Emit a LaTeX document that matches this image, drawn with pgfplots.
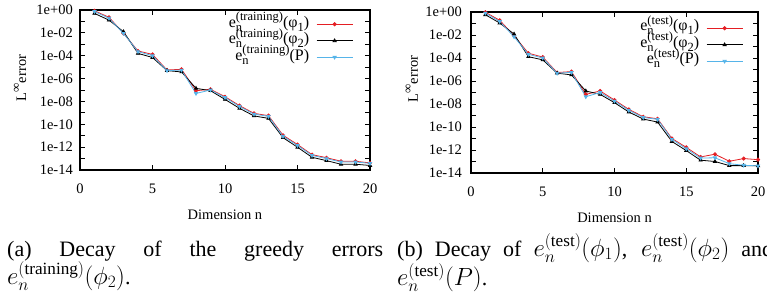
\documentclass[border=0pt]{standalone}
\usepackage{fontspec}
\setmainfont{Liberation Serif}
\usepackage{pgfplots}
\usepackage{pgfplotstable}
\pgfplotsset{compat=1.18}
\definecolor{gred}{RGB}{228,30,35}
\definecolor{gblue}{RGB}{86,180,233}

\pgfplotstableread{
n a b c
1 0.85 0.5 0.75
2 0.23 0.13 0.19
3 0.009 0.0126 0.009
4 2.6e-4 1.6e-4 2.3e-4
5 1.3e-4 7e-5 1.0e-4
6 5.6e-6 5e-6 5e-6
7 6.5e-6 3.8e-6 5.5e-6
8 8.7e-8 1.4e-7 5e-8
9 1.15e-7 8.7e-8 1.0e-7
10 2.6e-8 1.5e-8 2.2e-8
11 4.3e-9 2.5e-9 3.6e-9
12 9e-10 5.4e-10 7.8e-10
13 5.7e-10 3.3e-10 4.9e-10
14 1.1e-11 6.8e-12 9e-12
15 1.7e-12 9.8e-13 1.4e-12
16 2.2e-13 1.3e-13 1.9e-13
17 1.2e-13 6.6e-14 1.0e-13
18 5.8e-14 3.2e-14 5.0e-14
19 5.8e-14 3.2e-14 5.0e-14
20 4.2e-14 2.5e-14 3.8e-14
}\train

\pgfplotstableread{
n a b c
1 0.95 0.58 0.8
2 0.19 0.11 0.15
3 0.0085 0.012 0.007
4 2.6e-4 1.3e-4 2.1e-4
5 1.2e-4 6.9e-5 1.0e-4
6 5.4e-6 4.8e-6 4.8e-6
7 6.6e-6 3.4e-6 5.6e-6
8 6.9e-8 1.35e-7 4.3e-8
9 1.35e-7 6.9e-8 1.0e-7
10 2.2e-8 1.3e-8 1.8e-8
11 3.4e-9 2e-9 2.8e-9
12 7.8e-10 4.9e-10 6.8e-10
13 5.2e-10 2.7e-10 4.6e-10
14 1e-11 5.5e-12 8.5e-12
15 1.7e-12 8.9e-13 1.3e-12
16 2.5e-13 1.3e-13 2e-13
17 4.3e-13 1e-13 2.1e-13
18 1.05e-13 4.4e-14 6.5e-14
19 1.8e-13 4.4e-14 4.7e-14
20 1.45e-13 4.2e-14 4.2e-14
}\test

\tikzset{
  s1/.style={gred, line width=0.8pt, mark=*, mark size=1.6pt},
  s2/.style={black, line width=0.8pt, mark=triangle*, mark size=1.8pt},
  s3/.style={gblue, line width=0.8pt, mark=triangle*, mark size=1.8pt, mark options={rotate=180}},
}
\newcommand\legimg[1]{\draw[mark repeat=2,mark phase=2,#1] plot coordinates {(0pt,0pt) (18pt,0pt) (36pt,0pt)};}
% gnuplot-like enhanced text: e_n^{(sup)}(arg_sub)
\newcommand\gsup[1]{\raisebox{6.5pt}{\fontsize{12.5pt}{13pt}\selectfont #1}}
\newcommand\gsub[1]{\raisebox{-4pt}{\fontsize{12.5pt}{13pt}\selectfont #1}}
\newcommand\gent[3]{e\rlap{\gsub{n}}\gsup{(#1)}(#2\gsub{#3})}
\newcommand\gentP[1]{e\rlap{\gsub{n}}\gsup{(#1)}(P)}
\newcommand\cm[1]{{\fontsize{24.5pt}{28pt}\selectfont$#1$}}

\begin{document}
\begin{tikzpicture}[x=1pt,y=1pt]
\path[use as bounding box] (0,0) rectangle (767,298);

\begin{axis}[scale only axis, width=290pt, height=160pt, at={(80pt,128pt)}, anchor=south west,
    ymode=log,
    xmin=0, xmax=20, ymin=1e-14, ymax=1,
    xtick={0,5,10,15,20},
    xticklabels={0,5,10,15,20},
    ytick={1e-14,1e-13,1e-12,1e-11,1e-10,1e-9,1e-8,1e-7,1e-6,1e-5,1e-4,1e-3,1e-2,1e-1,1},
    yticklabels={1e-14,,1e-12,,1e-10,,1e-08,,1e-06,,1e-04,,1e-02,,1e+00},
    yminorticks=false,
    tick pos=both,
    tick align=inside,
    major tick length=5pt,
    axis line style={line width=1.3pt},
    every tick/.style={black, line width=0.8pt},
    tick label style={font=\fontsize{14.5pt}{16pt}\selectfont, inner sep=0pt},
    yticklabel style={xshift=-7pt},
    xticklabel style={yshift=-14pt},
    xlabel={Dimension n},
    ylabel={L\raisebox{6pt}{\fontsize{13pt}{13pt}\selectfont ∞}error},
    xlabel style={font=\fontsize{14.5pt}{16pt}\selectfont, at={(axis description cs:0.5,0)}, anchor=center, yshift=-45pt},
    ylabel style={font=\fontsize{14.5pt}{16pt}\selectfont, at={(axis description cs:-0.207,0.575)}, anchor=center},
    legend plot pos=right,
    legend cell align=right,
    legend image code/.code={\legimg{#1}},
    legend style={draw=none, fill=none, inner sep=0pt, outer sep=0pt, row sep=0pt,
      column sep=6pt,
      font=\fontsize{16pt}{17pt}\selectfont,
      nodes={inner sep=1pt, text height=10pt, text depth=4.5pt},
      at={(axis description cs:1,1)}, anchor=north east, xshift=-17pt, yshift=-6pt}]
\addplot[s1] table[x=n,y=a] {\train};
\addlegendentry{\gent{training}{φ}{1}}
\addplot[s2] table[x=n,y=b] {\train};
\addlegendentry{\gent{training}{φ}{2}}
\addplot[s3] table[x=n,y=c] {\train};
\addlegendentry{\gentP{training}}
\end{axis}

\begin{axis}[scale only axis, width=287pt, height=161pt, at={(471pt,125pt)}, anchor=south west,
    ymode=log,
    xmin=0, xmax=20, ymin=1e-14, ymax=1,
    xtick={0,5,10,15,20},
    xticklabels={0,5,10,15,20},
    ytick={1e-14,1e-13,1e-12,1e-11,1e-10,1e-9,1e-8,1e-7,1e-6,1e-5,1e-4,1e-3,1e-2,1e-1,1},
    yticklabels={1e-14,,1e-12,,1e-10,,1e-08,,1e-06,,1e-04,,1e-02,,1e+00},
    yminorticks=false,
    tick pos=both,
    tick align=inside,
    major tick length=5pt,
    axis line style={line width=1.3pt},
    every tick/.style={black, line width=0.8pt},
    tick label style={font=\fontsize{14.5pt}{16pt}\selectfont, inner sep=0pt},
    yticklabel style={xshift=-9pt},
    xticklabel style={yshift=-14pt},
    xlabel={Dimension n},
    ylabel={L\raisebox{6pt}{\fontsize{13pt}{13pt}\selectfont ∞}error},
    xlabel style={font=\fontsize{14.5pt}{16pt}\selectfont, at={(axis description cs:0.5,0)}, anchor=center, yshift=-45pt},
    ylabel style={font=\fontsize{14.5pt}{16pt}\selectfont, at={(axis description cs:-0.206,0.584)}, anchor=center},
    legend plot pos=right,
    legend cell align=right,
    legend image code/.code={\legimg{#1}},
    legend style={draw=none, fill=none, inner sep=0pt, outer sep=0pt, row sep=0pt,
      column sep=6pt,
      font=\fontsize{16pt}{17pt}\selectfont,
      nodes={inner sep=1pt, text height=10pt, text depth=4.5pt},
      at={(axis description cs:1,1)}, anchor=north east, xshift=-15pt, yshift=-8pt}]
\addplot[s1] table[x=n,y=a] {\test};
\addlegendentry{\gent{test}{φ}{1}}
\addplot[s2] table[x=n,y=b] {\test};
\addlegendentry{\gent{test}{φ}{2}}
\addplot[s3] table[x=n,y=c] {\test};
\addlegendentry{\gentP{test}}
\end{axis}

\node[anchor=base west, inner sep=0pt, text width=376pt, align=justify,
  font=\fontsize{22pt}{28pt}\selectfont] at (7,42)
  {(a) Decay of the greedy errors\linebreak \cm{e_n^{\mathrm{(training)}}(\phi_2)}.};
\node[anchor=base west, inner sep=0pt, text width=376pt, align=justify,
  font=\fontsize{22pt}{28pt}\selectfont] at (397,42)
  {(b) Decay of \cm{e_n^{\mathrm{(test)}}(\phi_1)}, \cm{e_n^{\mathrm{(test)}}(\phi_2)} and\linebreak \cm{e_n^{\mathrm{(test)}}(P)}.};
\end{tikzpicture}
\end{document}
